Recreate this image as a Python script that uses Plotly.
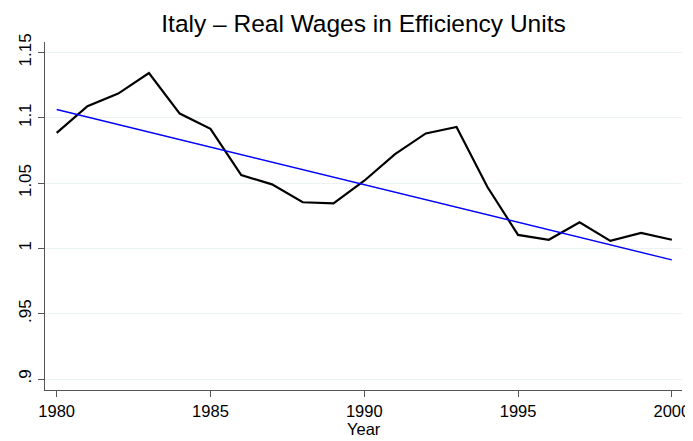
import plotly.graph_objects as go

years = list(range(1980, 2001))
wages = [1.0884, 1.1088, 1.1185, 1.1342, 1.1032, 1.0915, 1.0561, 1.0490, 1.0353, 1.0345,
         1.0518, 1.0722, 1.0880, 1.0930, 1.0472, 1.0103, 1.0066, 1.0200, 1.0058, 1.0119, 1.0066]
trend_years = [1980, 2000]
trend_vals = [1.1063, 0.9912]

y_tickvals = [0.9, 0.95, 1.0, 1.05, 1.1, 1.15]
y_ticktext = [".9", ".95", "1", "1.05", "1.1", "1.15"]
x_tickvals = [1980, 1985, 1990, 1995, 2000]

fig = go.Figure()
fig.add_trace(go.Scatter(x=years, y=wages, mode="lines",
                         line=dict(color="black", width=2.2), showlegend=False))
fig.add_trace(go.Scatter(x=trend_years, y=trend_vals, mode="lines",
                         line=dict(color="#0000ff", width=1.4), showlegend=False))

fig.update_layout(
    width=685, height=433,
    margin=dict(l=37, r=11, t=34, b=51),
    paper_bgcolor="white", plot_bgcolor="white",
    font=dict(family="Liberation Sans, Arial, sans-serif", color="black", size=17),
    title=dict(text="Italy \u2013 Real Wages in Efficiency Units", xref="paper", x=0.5,
               xanchor="center", y=0.965, yanchor="middle",
               font=dict(size=24.5, color="black")),
    xaxis=dict(range=[1979.62, 2000.33], tickvals=x_tickvals, showgrid=False,
               showline=True, linecolor="#555555", linewidth=1.2, automargin=False,
               ticks="outside", ticklen=6, tickcolor="#555555", zeroline=False,
               tickfont=dict(size=16.5)),
    yaxis=dict(range=[0.8916, 1.158], tickvals=y_tickvals, ticktext=y_ticktext,
               tickangle=-90, showgrid=True, gridcolor="#eaf2f3", gridwidth=1,
               showline=True, linecolor="#555555", linewidth=1.2, automargin=False,
               ticks="outside", ticklen=6, tickcolor="#555555", zeroline=False,
               tickfont=dict(size=17)),
    annotations=[dict(text="Year", xref="paper", yref="paper", x=0.5, y=-0.112,
                      xanchor="center", yanchor="middle", showarrow=False,
                      font=dict(size=16.5, color="black"))],
)

fig.write_html("out.html")
